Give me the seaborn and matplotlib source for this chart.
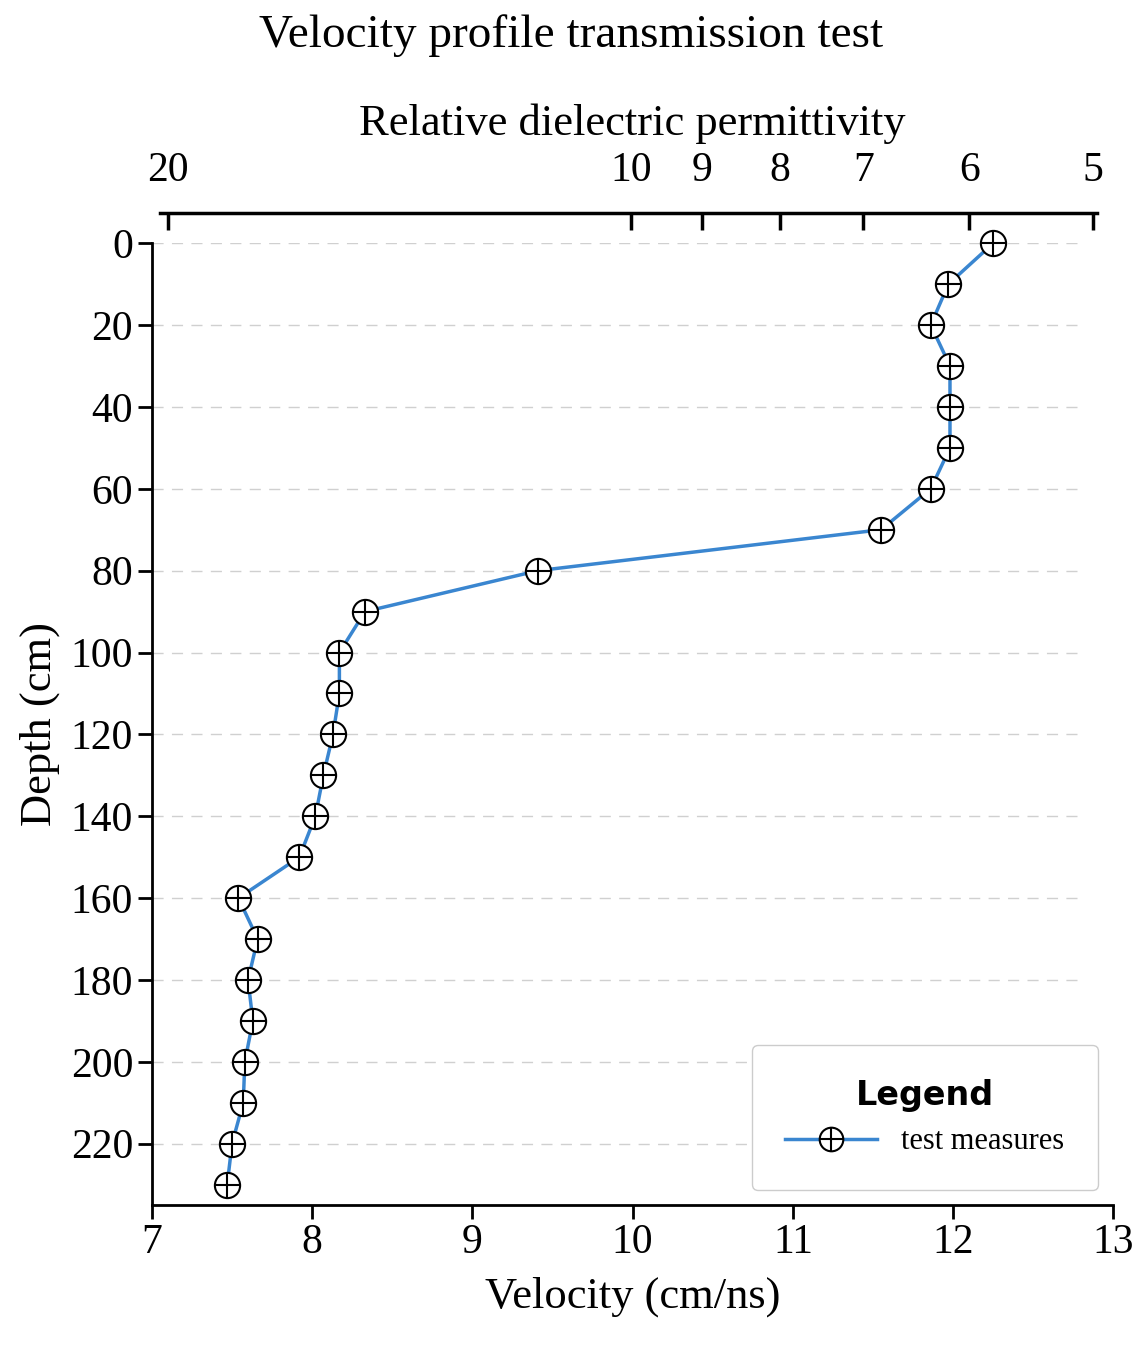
import numpy as np
import pandas as pd
import matplotlib
matplotlib.use("Agg")
import matplotlib.pyplot as plt
from matplotlib.lines import Line2D
import seaborn as sns

# Measured profile
depth = [0, 10, 20, 30, 40, 50, 60, 70, 80, 90, 100, 110, 120, 130, 140, 150,
         160, 170, 180, 190, 200, 210, 220, 230]
velocity = [12.25, 11.97, 11.86, 11.98, 11.98, 11.98, 11.86, 11.55, 9.41, 8.33,
            8.17, 8.17, 8.13, 8.07, 8.02, 7.92, 7.54, 7.66, 7.60, 7.63, 7.58,
            7.57, 7.50, 7.47]

# Top axis: permittivity labels and where they sit on the velocity scale
eps_labels = ["20", "10", "9", "8", "7", "6", "5"]
eps_pos = [7.10, 9.99, 10.43, 10.92, 11.44, 12.10, 12.87]

df = pd.DataFrame({"depth": depth, "velocity": velocity})

serif = "Liberation Serif"
blue = "#3a86d0"

fig = plt.figure(figsize=(11.42, 13.51), dpi=100)
ax = fig.add_axes([0.133, 0.108, 0.842, 0.712])

sns.lineplot(data=df, x="velocity", y="depth", sort=False, orient="y",
             color=blue, lw=2.5, ax=ax)
ax.scatter(df["velocity"], df["depth"], s=330, facecolor="white",
           edgecolor="black", lw=1.5, zorder=3, clip_on=False)
ax.scatter(df["velocity"], df["depth"], s=330, marker="+", color="black",
           lw=1.5, zorder=4, clip_on=False)

ax.set_xlim(7, 13)
ax.set_ylim(235, 0)
ax.set_yticks(range(0, 221, 20))
ax.set_xticks(range(7, 14))
for d in range(0, 221, 20):
    ax.axhline(d, xmax=0.965, color="#d0d0d0", lw=1, ls=(0, (8, 6)), zorder=0)

for s in ["top", "right"]:
    ax.spines[s].set_visible(False)
for s in ["left", "bottom"]:
    ax.spines[s].set_linewidth(2)
ax.tick_params(labelsize=30, width=2, length=10, direction="out")
for lab in ax.get_xticklabels() + ax.get_yticklabels():
    lab.set_fontfamily(serif)

ax.set_xlabel("Velocity (cm/ns)", fontsize=32, family=serif, labelpad=10)
ax.set_ylabel("Depth (cm)", fontsize=32, family=serif, labelpad=8)

top = ax.secondary_xaxis("top")
top.spines["top"].set_position(("outward", 22))
top.spines["top"].set_linewidth(2.5)
top.spines["top"].set_bounds(7.05, 12.9)
top.set_xticks(eps_pos)
top.set_xticklabels(eps_labels, family=serif, fontsize=30)
top.tick_params(direction="in", length=12, width=2.5, pad=16)
top.set_xlabel("Relative dielectric permittivity", fontsize=32, family=serif,
               labelpad=12)

fig.text(0.5, 0.965, "Velocity profile transmission test", ha="center",
         fontsize=34, family=serif)

handle = (Line2D([], [], color=blue, lw=2.5),
          Line2D([], [], marker="o", ms=17, mfc="white", mec="black", mew=1.5, ls=""),
          Line2D([], [], marker="+", ms=17, color="black", mew=1.5, ls=""))
leg = ax.legend([handle], ["test measures"], loc="lower right",
                bbox_to_anchor=(1.0, 0.0), title="Legend",
                prop={"family": serif, "size": 22}, handlelength=3,
                borderpad=1.1, fancybox=True, framealpha=1)
leg.get_title().set_fontsize(24)
leg.get_title().set_fontweight("bold")
leg.get_frame().set_edgecolor("#cccccc")

fig.savefig("out.png", dpi=100)
